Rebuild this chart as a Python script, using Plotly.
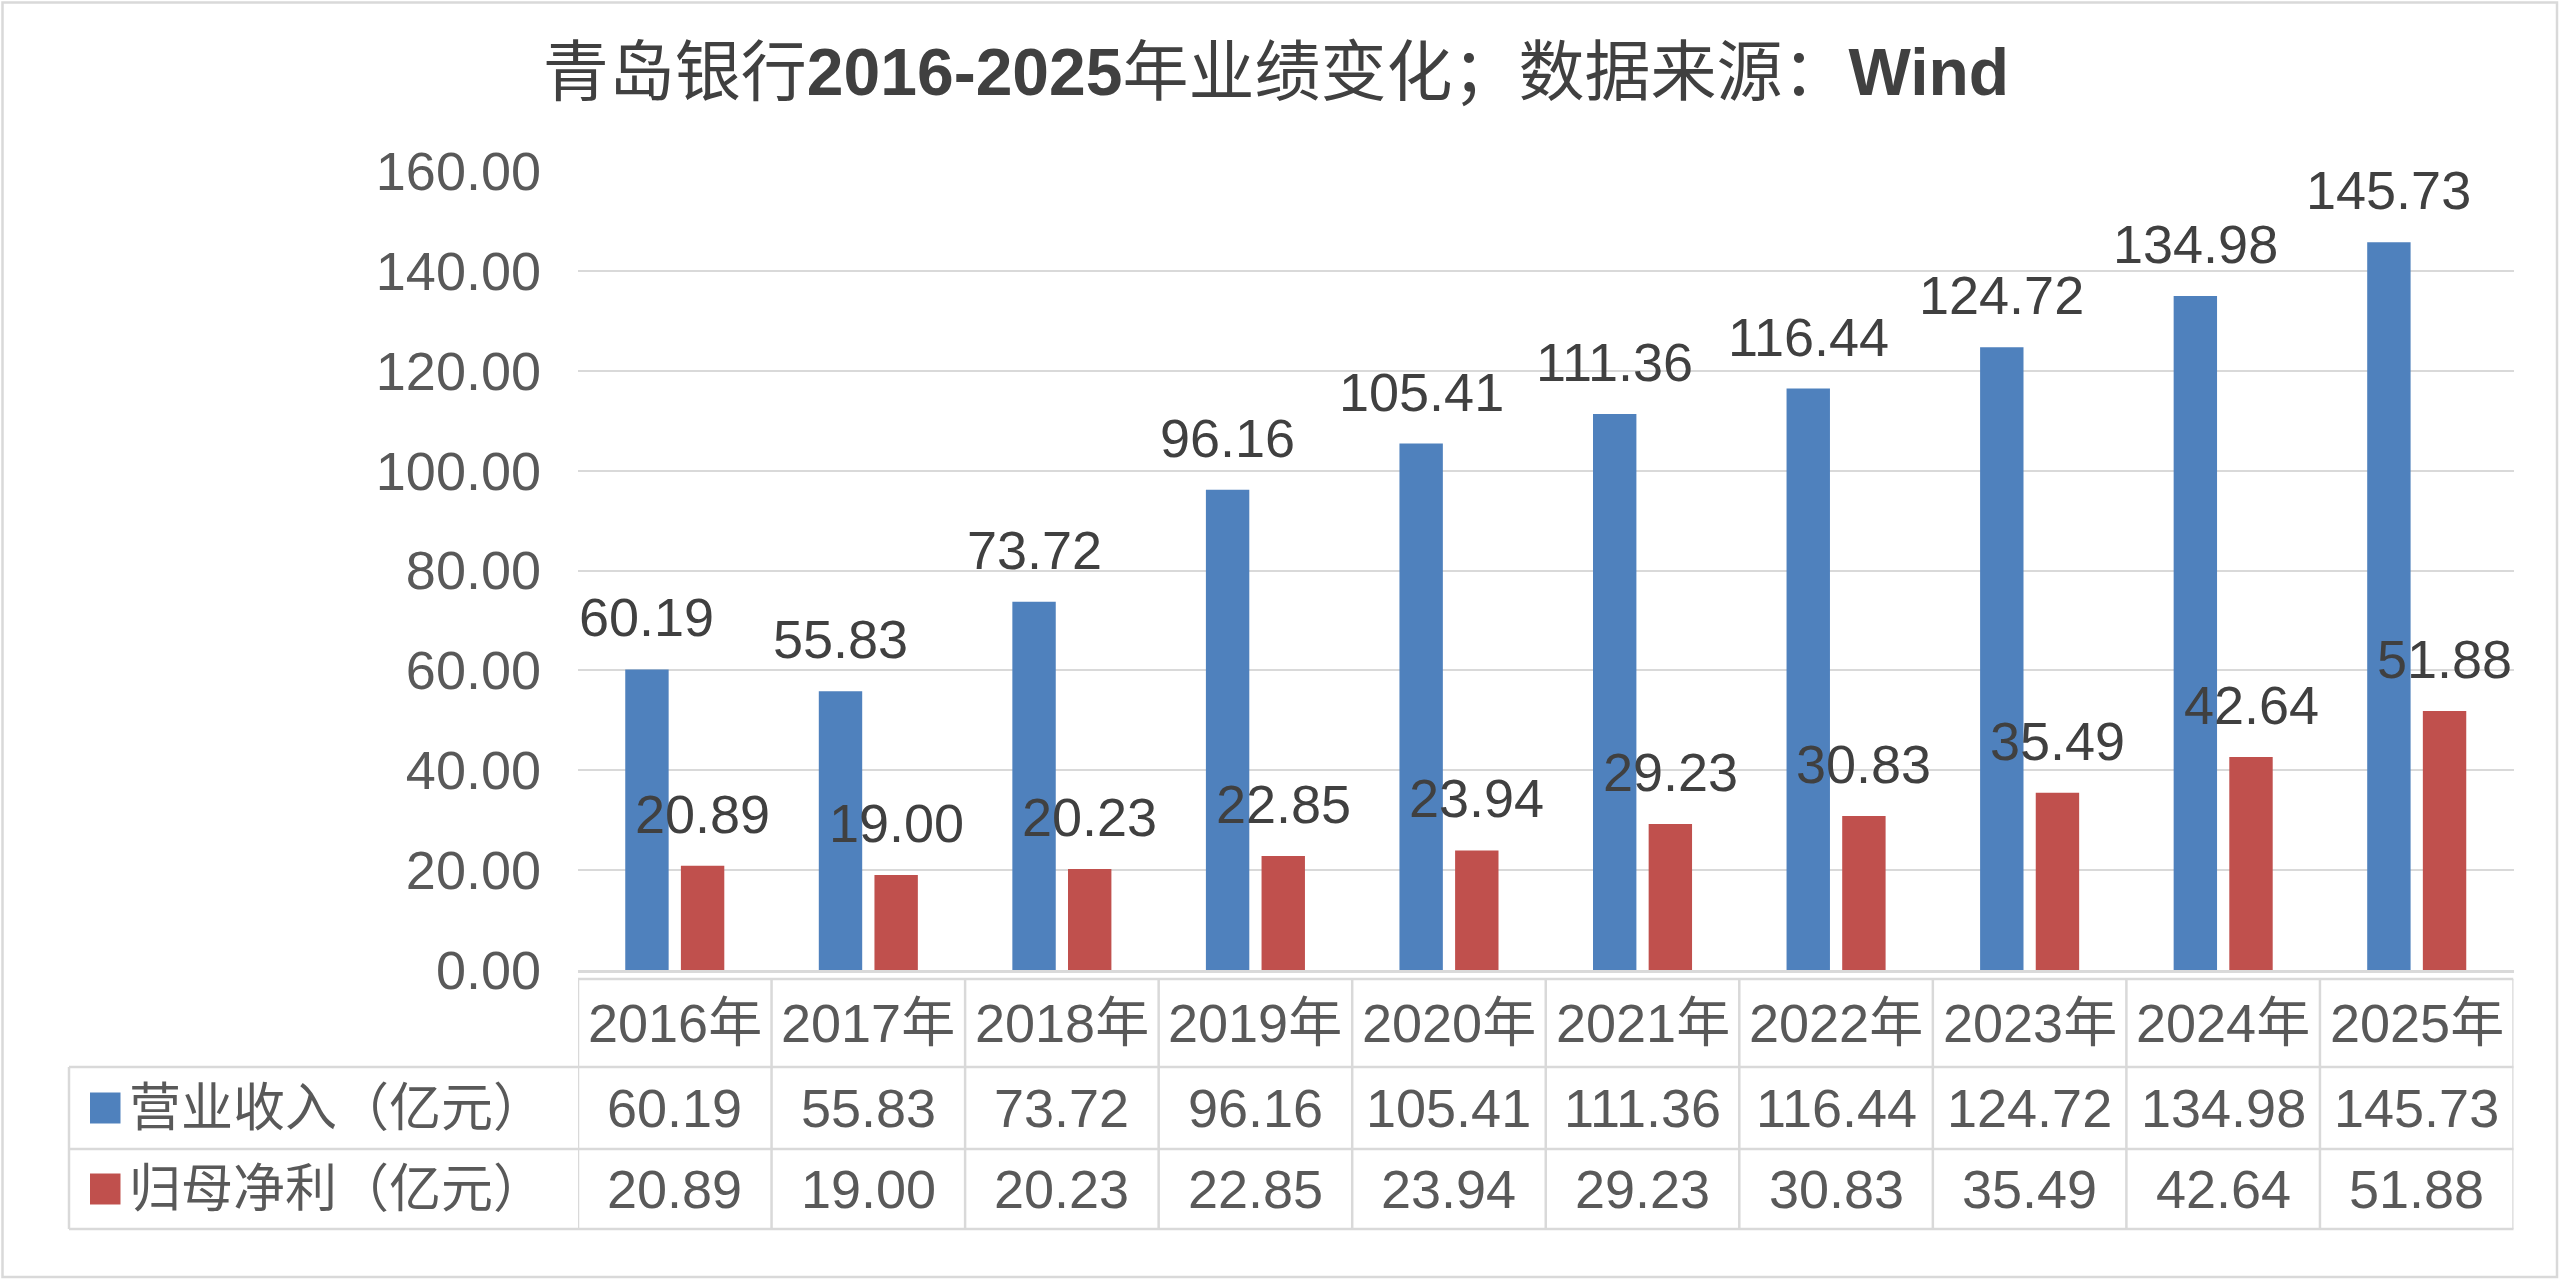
import plotly.graph_objects as go

# ---------------- data ----------------
categories = ["2016年", "2017年", "2018年", "2019年", "2020年",
              "2021年", "2022年", "2023年", "2024年", "2025年"]
revenue = [60.19, 55.83, 73.72, 96.16, 105.41, 111.36, 116.44, 124.72, 134.98, 145.73]
net_profit = [20.89, 19.00, 20.23, 22.85, 23.94, 29.23, 30.83, 35.49, 42.64, 51.88]
series_names = ["营业收入（亿元）", "归母净利（亿元）"]
y_tick_values = [0, 20, 40, 60, 80, 100, 120, 140, 160]
title_text = "青岛银行<b>2016-2025</b>年业绩变化；数据来源：<b>Wind</b>"

# ---------------- style / layout constants ----------------
W, H = 2560, 1280
FONT = "Liberation Sans, Noto Sans CJK SC, sans-serif"
BLUE, RED = "#4F81BD", "#C0504D"
GRID = "#d9d9d9"
TXT = "#595959"
LBL = "#404040"

PLOT_L, PLOT_R = 578, 2513.5
Y0_PX, YTOP_PX = 970, 171
TABLE_TOP, ROW1_B, ROW2_B, TABLE_B = 979, 1067, 1149, 1229
TABLE_L = 69
BARGAP, BARGROUPGAP = 0.425, 0.22

def px(x):
    return x / W

def py(y):
    return 1 - y / H

col_px = (PLOT_R - PLOT_L) / len(categories)
slot_px = col_px * (1 - BARGAP) / 2

fig = go.Figure()
colors = [BLUE, RED]
all_series = [revenue, net_profit]
for name, vals, c in zip(series_names, all_series, colors):
    fig.add_trace(go.Bar(x=categories, y=vals, name=name,
                         marker=dict(color=c, line=dict(width=0)),
                         hoverinfo="x+y"))

annotations = []
shapes = []

# data labels above bars
for k, vals in enumerate(all_series):
    for cat, v in zip(categories, vals):
        annotations.append(dict(
            x=cat, y=v, xref="x", yref="y", text=f"{v:.2f}",
            showarrow=False, xanchor="center", yanchor="bottom",
            xshift=(k - 0.5) * slot_px, yshift=20,
            font=dict(family=FONT, size=54, color=LBL)))

# table: year row
yr_center = (TABLE_TOP + ROW1_B) / 2
for cat in categories:
    annotations.append(dict(
        x=cat, y=py(yr_center), xref="x", yref="paper", text=cat,
        showarrow=False, xanchor="center", yanchor="middle",
        font=dict(family=FONT, size=54, color=TXT)))

# table: value rows
row_bounds = [(ROW1_B, ROW2_B), (ROW2_B, TABLE_B)]
for (r0, r1), name, vals, c in zip(row_bounds, series_names, all_series, colors):
    rc = (r0 + r1) / 2
    for cat, v in zip(categories, vals):
        annotations.append(dict(
            x=cat, y=py(rc), xref="x", yref="paper", text=f"{v:.2f}",
            showarrow=False, xanchor="center", yanchor="middle",
            font=dict(family=FONT, size=54, color=TXT)))
    annotations.append(dict(
        x=px(127), y=py(rc), xref="paper", yref="paper", text=name,
        showarrow=False, xanchor="left", yanchor="middle",
        font=dict(family=FONT, size=52, color=TXT)))
    shapes.append(dict(type="rect", xref="paper", yref="paper",
                       x0=px(90), x1=px(120.5), y0=py(rc + 15.5), y1=py(rc - 15.5),
                       fillcolor=c, line=dict(width=0)))

LW = 2.5
# table lines
shapes.append(dict(type="line", xref="x", yref="paper", x0=-0.5, x1=len(categories) - 0.5,
                   y0=py(TABLE_TOP), y1=py(TABLE_TOP), line=dict(color=GRID, width=LW)))
for yy in (ROW1_B, ROW2_B, TABLE_B):
    shapes.append(dict(type="line", xref="paper", yref="paper", x0=px(TABLE_L), x1=px(PLOT_R),
                       y0=py(yy), y1=py(yy), line=dict(color=GRID, width=LW)))
for i in range(len(categories) + 1):
    shapes.append(dict(type="line", xref="x", yref="paper", x0=i - 0.5, x1=i - 0.5,
                       y0=py(TABLE_TOP), y1=py(TABLE_B), line=dict(color=GRID, width=LW)))
shapes.append(dict(type="line", xref="paper", yref="paper", x0=px(TABLE_L), x1=px(TABLE_L),
                   y0=py(ROW1_B), y1=py(TABLE_B), line=dict(color=GRID, width=LW)))
# outer chart border
shapes.append(dict(type="rect", xref="paper", yref="paper", x0=px(2.5), x1=px(2557),
                   y0=py(1277), y1=py(2.5), line=dict(color=GRID, width=2.5)))

fig.update_layout(
    width=W, height=H,
    margin=dict(l=0, r=0, t=0, b=0, pad=0, autoexpand=False),
    paper_bgcolor="white", plot_bgcolor="white",
    barmode="group", bargap=BARGAP, bargroupgap=BARGROUPGAP,
    showlegend=False,
    title=dict(text=title_text, x=px(1276), xanchor="center", xref="container",
               y=py(72), yanchor="middle", yref="container", automargin=False,
               font=dict(family=FONT, size=66, color=LBL)),
    xaxis=dict(domain=[px(PLOT_L), px(PLOT_R)], range=[-0.5, len(categories) - 0.5],
               showticklabels=False, showgrid=False, zeroline=False, automargin=False,
               showline=True, linecolor=GRID, linewidth=3, ticks=""),
    yaxis=dict(domain=[py(Y0_PX), py(YTOP_PX)], range=[0, 160],
               tickvals=y_tick_values, tickformat=".2f", automargin=False,
               showgrid=True, gridcolor=GRID, gridwidth=2,
               zeroline=False, showline=False, ticks="",
               ticklabelstandoff=36,
               tickfont=dict(family=FONT, size=54, color=TXT)),
    annotations=annotations,
    shapes=shapes,
)

fig.write_html(
    "out.html",
    config={"displayModeBar": False},
    post_script="document.body.style.margin='0';document.body.style.overflow='hidden';",
)
